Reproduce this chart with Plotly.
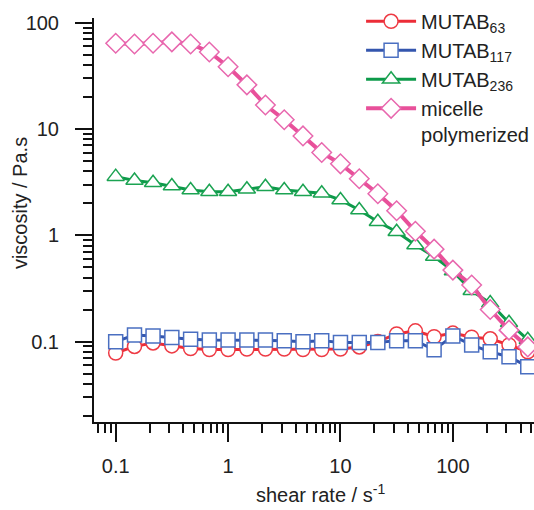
import plotly.graph_objects as go

shear_rate = [0.1, 0.147, 0.215, 0.316, 0.464, 0.681, 1.0, 1.47, 2.15, 3.16, 4.64, 6.81,
              10.0, 14.7, 21.5, 31.6, 46.4, 68.1, 100, 147, 215, 316, 464]
mutab63 = [0.078, 0.090, 0.097, 0.091, 0.086, 0.084, 0.084, 0.085, 0.085, 0.085, 0.084, 0.084,
           0.085, 0.089, 0.100, 0.118, 0.126, 0.111, 0.120, 0.110, 0.106, 0.093, 0.080]
mutab117 = [0.0998, 0.115, 0.113, 0.109, 0.105, 0.1035, 0.1035, 0.1035, 0.1035, 0.102, 0.0998, 0.102,
             0.098, 0.098, 0.0977, 0.102, 0.102, 0.0835, 0.113, 0.093, 0.080, 0.072, 0.058]
mutab236 = [3.56, 3.27, 3.12, 2.91, 2.67, 2.57, 2.57, 2.71, 2.86, 2.67, 2.57, 2.48,
            2.15, 1.73, 1.34, 1.08, 0.81, 0.63, 0.46, 0.30, 0.23, 0.15, 0.104]
micelle = [64, 63, 64, 66, 63, 53, 38.5, 26, 16.8, 12.2, 8.6, 6.0,
           4.7, 3.4, 2.46, 1.70, 1.09, 0.74, 0.47, 0.34, 0.20, 0.128, 0.089]

names = ["MUTAB<sub>63</sub>", "MUTAB<sub>117</sub>", "MUTAB<sub>236</sub>", "micelle<br>polymerized"]
series = [mutab63, mutab117, mutab236, micelle]
line_colors = ["#ec2d38", "#3456ae", "#0d9a4a", "#e8509a"]
marker_colors = ["#ee3a44", "#4a6fc1", "#1ba352", "#e867ae"]
symbols = ["circle", "square", "triangle-up", "diamond"]
sizes = [14, 14, 15, 15]
widths = [3, 3, 3, 4]

FONT = "Liberation Sans, Arial, sans-serif"

fig = go.Figure()
for name, ys, lc, mc, sym, sz, lw in zip(names, series, line_colors, marker_colors, symbols, sizes, widths):
    fig.add_trace(go.Scatter(
        x=shear_rate, y=ys, name=name, mode="lines+markers",
        line=dict(color=lc, width=lw),
        marker=dict(symbol=sym, size=sz, color="white", line=dict(color=mc, width=1.5)),
    ))

axis_common = dict(
    type="log", dtick=1, showgrid=False, zeroline=False, automargin=False,
    showline=True, linecolor="#111", linewidth=2, mirror=False,
    ticks="outside", tickwidth=2, tickcolor="#111",
    tickfont=dict(family=FONT, size=20, color="#222"),
    minor=dict(ticks="outside", ticklen=9, tickwidth=1.8, tickcolor="#111", dtick="D1", showgrid=False),
)

fig.update_xaxes(**axis_common, range=[-1.193, 2.722], ticklen=18, ticklabelstandoff=7)
fig.update_yaxes(**axis_common, range=[-1.757, 2.044], ticklen=17, ticklabelstandoff=12)

fig.update_layout(
    width=534, height=510,
    margin=dict(l=94, r=0, t=18, b=88, autoexpand=False),
    plot_bgcolor="white", paper_bgcolor="white",
    font=dict(family=FONT, size=20, color="#222"),
    legend=dict(x=0.607, y=1.04, xanchor="left", yanchor="top", bgcolor="rgba(0,0,0,0)",
                font=dict(family=FONT, size=20, color="#222"), valign="top",
                itemwidth=50, tracegroupgap=0),
    annotations=[
        dict(text="viscosity / Pa.s", xref="paper", yref="paper", x=-0.168, y=0.542,
             textangle=-90, showarrow=False, font=dict(family=FONT, size=20, color="#222"),
             xanchor="center", yanchor="middle"),
        dict(text="shear rate / s<sup>-1</sup>", xref="paper", yref="paper", x=0.514, y=-0.176,
             showarrow=False, font=dict(family=FONT, size=20, color="#222"),
             xanchor="center", yanchor="middle"),
    ],
)

fig.write_html("out.html", config=dict(displayModeBar=False),
               post_script="document.body.style.margin='0';document.body.style.overflow='hidden';")
